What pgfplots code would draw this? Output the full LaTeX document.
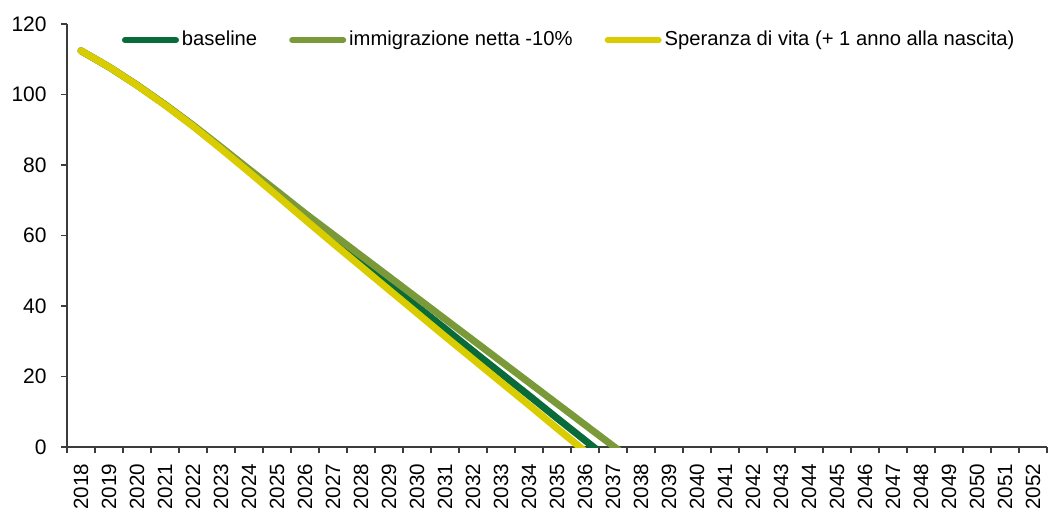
\documentclass[border=0pt]{standalone}
\usepackage{fontspec}
\setmainfont{Liberation Sans}
\usepackage{pgfplots}
\pgfplotsset{compat=1.18}
\definecolor{cBase}{RGB}{9,106,58}
\definecolor{cImm}{RGB}{122,154,58}
\definecolor{cSpe}{RGB}{217,204,0}
\definecolor{cAx}{RGB}{60,60,60}
\begin{document}
\begin{tikzpicture}
\path[use as bounding box] (-33.5pt,-31pt) rectangle (491pt,223.5pt);
\begin{axis}[
  at={(0,0)}, anchor=south west,
  scale only axis, width=490pt, height=211.5pt,
  xmin=-0.5, xmax=34.5, ymin=0, ymax=120,
  axis lines*=left,
  axis line style={cAx, line width=0.75pt},
  xtick={0,...,34},
  xticklabels={2018,2019,2020,2021,2022,2023,2024,2025,2026,2027,2028,2029,2030,2031,2032,2033,2034,2035,2036,2037,2038,2039,2040,2041,2042,2043,2044,2045,2046,2047,2048,2049,2050,2051,2052},
  minor xtick={-0.5,0.5,...,34.5},
  major x tick style={draw=none},
  minor x tick style={cAx, line width=0.75pt},
  ytick={0,20,...,120},
  major y tick style={cAx, line width=0.75pt},
  tick align=outside,
  major tick length=3pt, minor tick length=3pt,
  /pgf/number format/assume math mode=true,
  xticklabel style={rotate=90, anchor=east, inner sep=0pt, font=\fontsize{10.3}{12}\selectfont, xshift=-5.2pt},
  yticklabel style={anchor=east, inner sep=0pt, font=\fontsize{10.5}{12}\selectfont, xshift=-7pt},
  legend columns=3,
  legend cell align=left,
  legend style={draw=none, fill=none, at={(rel axis cs:0.0561,0.962)}, anchor=west,
    inner sep=0pt, outer sep=0pt, font=\fontsize{10.1}{12}\selectfont,
    column sep=1.5pt, nodes={inner xsep=0pt, inner ysep=1pt},
    /tikz/every even column/.append style={column sep=16pt}},
  legend image code/.code={\draw[#1, line width=3pt, line cap=round] (0pt,0pt) -- (25.5pt,0pt);},
  every axis plot/.append style={line width=3.5pt, line cap=round, line join=round},
]
\addplot[cBase] coordinates {
(0,112.4) (1,107.8) (2,102.65) (3,97.1) (4,91.15) (5,84.85) (6,78.35) (7,71.8) (8,65.3) (9,58.9)
(10,52.6) (11,46.2) (12,39.9) (13,33.6) (14,27.2) (15,20.9) (16,14.6) (17,8.2) (18,1.9) (19,-4.4)};
\addlegendentry{baseline}
\addplot[cImm] coordinates {
(0,112.4) (1,107.85) (2,102.7) (3,97.15) (4,91.3) (5,85.1) (6,78.8) (7,72.6) (8,66.3) (9,60.3)
(10,54.3) (11,48.3) (12,42.3) (13,36.3) (14,30.3) (15,24.3) (16,18.3) (17,12.3) (18,6.3) (19,0.3) (20,-5.7)};
\addlegendentry{immigrazione netta -10\%}
\addplot[cSpe] coordinates {
(0,112.4) (1,107.8) (2,102.6) (3,97.0) (4,91.0) (5,84.6) (6,78.0) (7,71.3) (8,64.5) (9,57.8)
(10,51.2) (11,44.6) (12,38.0) (13,31.4) (14,24.9) (15,18.4) (16,11.9) (17,5.3) (18,-1.2)};
\addlegendentry{Speranza di vita (+ 1 anno alla nascita)}
\end{axis}
\end{tikzpicture}
\end{document}
